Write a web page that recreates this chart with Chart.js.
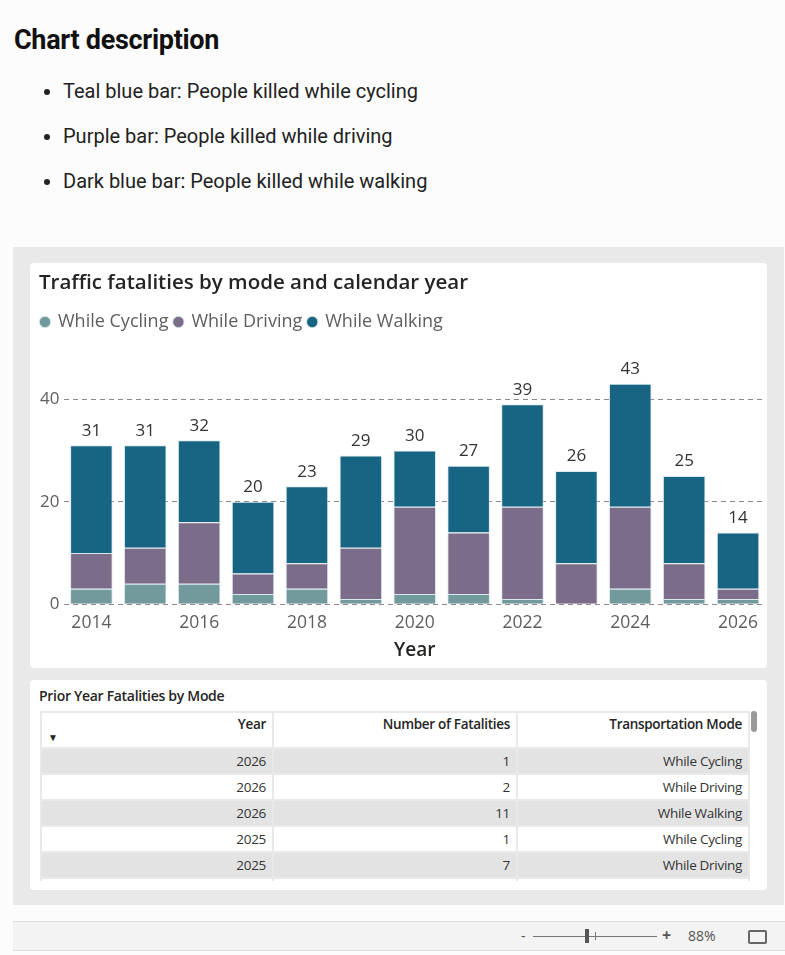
<!DOCTYPE html>
<html>
<head>
<meta charset="utf-8">
<script src="https://cdn.jsdelivr.net/npm/chart.js@4"></script>
<style>
  html, body { margin: 0; padding: 0; }
  body { width: 785px; height: 955px; background: #fcfcfc; font-family: Roboto, sans-serif; position: relative; overflow: hidden; }
  h2 { position: absolute; left: 14px; top: 24px; margin: 0; font-size: 27px; font-weight: 700; color: #111; letter-spacing: -0.3px; }
  ul { position: absolute; left: 40px; top: 77px; margin: 0; padding-left: 23px; font-size: 20px; color: #222; }
  ul li { height: 45px; line-height: 28px; }
  .panel { position: absolute; left: 13px; top: 247px; width: 771px; height: 658px; background: #e9e9e9; }
  .card { position: absolute; background: #fff; border-radius: 4px; }
  #chartCard { left: 17px; top: 16px; width: 737px; height: 405px; }
  #chartCard h3 { position: absolute; left: 9px; top: 4px; margin: 0; line-height: 28px; font: 600 20.5px "Open Sans", sans-serif; color: #252423; }
  #chartCard canvas { position: absolute; left: 0; top: 0; }
  #tableCard { left: 17px; top: 433px; width: 737px; height: 210px; overflow: hidden; }
  #tableCard h3 { margin: 0; position: absolute; left: 9px; top: 6px; font: 600 14px "Open Sans", sans-serif; color: #252423; letter-spacing: -0.3px; }
  .tablewrap { position: absolute; left: 10px; top: 31px; width: 712px; height: 170px; overflow: hidden; }
  table { border-collapse: collapse; font: 13.5px "Open Sans", sans-serif; color: #333; letter-spacing: -0.3px; }
  td, th { border: 2px solid #e9e9e9; text-align: right; padding: 0 6px; height: 24px; }
  th { font-weight: 600; height: 32px; vertical-align: top; padding-top: 2px; position: relative; color: #252423; }
  tr.alt td { background: #e3e3e3; }
  .sort { position: absolute; left: 6px; bottom: 3px; font-size: 10px; }
  .scroll { position: absolute; left: 721px; top: 31px; width: 6px; height: 21px; background: #9a9a9a; border-radius: 3px; }
  .status { position: absolute; left: 13px; top: 921px; width: 772px; height: 28px; background: #f3f3f3; border-top: 1px solid #dedede; border-bottom: 1px solid #dedede; font: 14px "Open Sans", sans-serif; color: #555; }
</style>
</head>
<body>
<h2>Chart description</h2>
<ul>
  <li>Teal blue bar: People killed while cycling</li>
  <li>Purple bar: People killed while driving</li>
  <li>Dark blue bar: People killed while walking</li>
</ul>

<div class="panel">
  <div class="card" id="chartCard">
    <canvas id="fatalChart" width="737" height="405"></canvas>
    <h3>Traffic fatalities by mode and calendar year</h3>
  </div>
  <div class="card" id="tableCard">
    <h3>Prior Year Fatalities by Mode</h3>
    <div class="tablewrap"><table id="priorTable"></table></div>
    <div class="scroll"></div>
  </div>
</div>

<div class="status">
  <span style="position:absolute;left:508px;top:4px;">-</span>
  <span style="position:absolute;left:520px;top:14px;width:124px;height:1px;background:#777;"></span>
  <span style="position:absolute;left:572px;top:7px;width:4px;height:14px;background:#555;"></span>
  <span style="position:absolute;left:582px;top:10px;width:1px;height:8px;background:#777;"></span>
  <span style="position:absolute;left:649px;top:2px;font-weight:700;font-size:16px;">+</span>
  <span style="position:absolute;left:675px;top:4px;">88%</span>
  <span style="position:absolute;left:735px;top:8px;width:15px;height:10px;border:2px solid #666;border-radius:2px;"></span>
</div>

<script>
const years = ["2014", "2015", "2016", "2017", "2018", "2019", "2020", "2021", "2022", "2023", "2024", "2025", "2026"];
const cycling = [3, 4, 4, 2, 3, 1, 2, 2, 1, 0, 3, 1, 1];
const driving = [7, 7, 12, 4, 5, 10, 17, 12, 18, 8, 16, 7, 2];
const walking = [21, 20, 16, 14, 15, 18, 11, 13, 20, 18, 24, 17, 11];
const yTicks = [0, 20, 40];

const modeNames = ["While Cycling", "While Driving", "While Walking"];
const modeColors = ["#72999c", "#7b6c8a", "#176583"];

// totals printed above each stack
const totalsPlugin = {
  id: "totals",
  afterDatasetsDraw(chart) {
    const ctx = chart.ctx;
    const y = chart.scales.y;
    const meta = chart.getDatasetMeta(chart.data.datasets.length - 1);
    ctx.save();
    ctx.font = "17px 'Open Sans', sans-serif";
    ctx.fillStyle = "#333";
    ctx.textAlign = "center";
    ctx.textBaseline = "bottom";
    years.forEach((yr, i) => {
      const total = cycling[i] + driving[i] + walking[i];
      ctx.fillText(total, meta.data[i].x, y.getPixelForValue(total) - 6);
    });
    ctx.restore();
  }
};

// extra gap under the legend
const legendGap = {
  id: "legendGap",
  beforeInit(chart) {
    const fit = chart.legend.fit;
    chart.legend.fit = function () { fit.bind(chart.legend)(); this.height += 7; };
  }
};

const series = [cycling, driving, walking];
const ctx = document.getElementById("fatalChart").getContext("2d");
new Chart(ctx, {
  type: "bar",
  data: {
    labels: years,
    datasets: series.map((d, i) => ({
      label: modeNames[i],
      data: d,
      backgroundColor: modeColors[i],
      borderColor: "rgba(215,230,236,0.9)",
      borderWidth: 1,
      categoryPercentage: 0.79,
      barPercentage: 1
    }))
  },
  options: {
    responsive: false,
    animation: false,
    layout: { padding: { left: 5, right: 2, top: 44, bottom: 2 } },
    scales: {
      x: {
        stacked: true,
        grid: { display: false },
        border: { display: false },
        ticks: {
          autoSkip: false, maxRotation: 0, padding: 0,
          color: "#605e5c", font: { family: "'Open Sans', sans-serif", size: 17.5 },
          callback: function (v, i) { return i % 2 === 0 ? years[i] : ""; }
        },
        title: { display: true, text: "Year", color: "#252423", padding: { top: 6 },
          font: { family: "'Open Sans', sans-serif", size: 19, weight: "600" } }
      },
      y: {
        stacked: true,
        min: 0, max: 50,
        afterBuildTicks: s => { s.ticks = yTicks.map(v => ({ value: v })); },
        grid: { color: "#8a8a8a", lineWidth: 1, drawTicks: false },
        border: { display: false, dash: [5, 4] },
        ticks: { padding: 5, color: "#605e5c", font: { family: "'Open Sans', sans-serif", size: 17 } }
      }
    },
    plugins: {
      title: { display: false },
      legend: {
        align: "start",
        labels: {
          usePointStyle: true, pointStyle: "circle", boxWidth: 8, boxHeight: 8, padding: 6,
          color: "#605e5c", font: { family: "'Open Sans', sans-serif", size: 18 }
        }
      },
      tooltip: { enabled: false }
    }
  },
  plugins: [totalsPlugin, legendGap]
});

// table: most recent years, newest first
const tableYears = ["2026", "2025"];
const rows = [];
tableYears.forEach(yr => {
  const i = years.indexOf(yr);
  series.forEach((d, m) => rows.push([yr, d[i], modeNames[m]]));
});
let html = '<tr><th style="width:218px">Year<span class="sort">&#9660;</span></th><th style="width:230px">Number of Fatalities</th><th style="width:218px">Transportation Mode</th></tr>';
rows.forEach((r, k) => {
  html += '<tr class="' + (k % 2 === 0 ? "alt" : "") + '"><td>' + r[0] + '</td><td>' + r[1] + '</td><td>' + r[2] + '</td></tr>';
});
document.getElementById("priorTable").innerHTML = html;
</script>
</body>
</html>
